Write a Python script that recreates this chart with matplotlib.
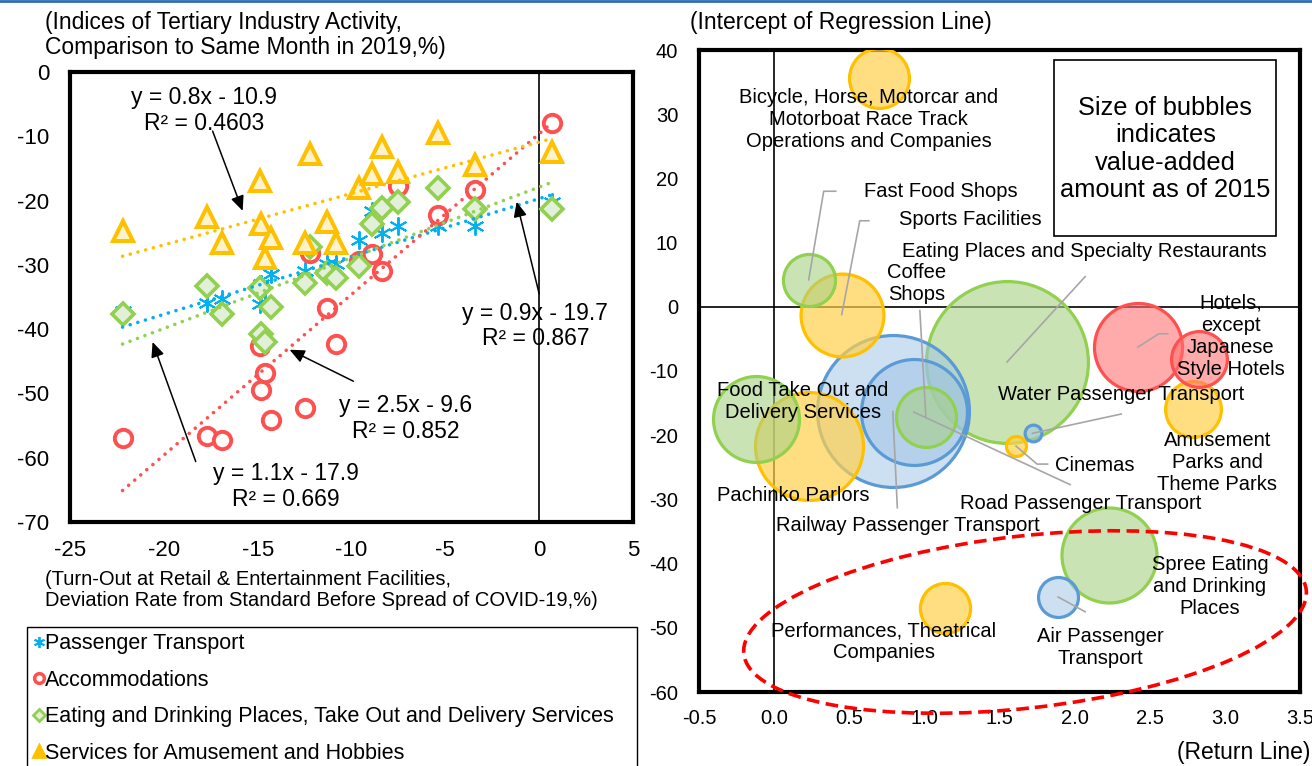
import numpy as np
import matplotlib
matplotlib.use('Agg')
import matplotlib.pyplot as plt
from matplotlib.lines import Line2D
from matplotlib.patches import Ellipse, Rectangle
from matplotlib.transforms import ScaledTranslation

plt.rcParams['font.family'] = ['Liberation Sans', 'DejaVu Sans']
plt.rcParams['axes.unicode_minus'] = False

# ---------------- left chart data (turn-out vs activity index) ----------------
series_names = ['Passenger Transport', 'Accommodations',
                'Eating and Drinking Places, Take Out and Delivery Services',
                'Services for Amusement and Hobbies']

turnout = [-22.2, -17.7, -16.9, -14.9, -14.8, -14.6, -14.3, -12.5, -12.2,
           -11.3, -10.8, -9.6, -8.9, -8.4, -7.5, -5.4, -3.4, 0.7]

passenger = [-37.2, -35.9, -35.3, -36.1, -33.0, -35.8, -31.4, -31.0, -27.8,
             -29.8, -29.8, -26.2, -21.6, -25.0, -24.0, -23.9, -23.9, -20.3]
accommodation = [-57.0, -56.7, -57.3, -42.7, -49.4, -46.9, -54.1, -52.2, -28.1,
                 -36.7, -42.3, -29.4, -28.3, -30.9, -17.7, -22.3, -18.4, -8.0]
eating = [-37.7, -33.3, -37.7, -33.6, -40.8, -42.0, -36.6, -32.8, -27.3,
          -31.3, -32.0, -30.2, -23.6, -21.1, -20.3, -18.0, -21.3, -21.3]
amusement = [-24.7, -22.6, -26.6, -16.9, -23.6, -29.0, -25.9, -26.6, -12.7,
             -23.4, -26.6, -18.1, -15.8, -11.7, -15.6, -9.5, -14.5, -12.5]

slopes = [0.9, 2.5, 1.1, 0.8]
intercepts = [-19.7, -9.6, -17.9, -10.9]
r2_texts = ['0.867', '0.852', '0.669', '0.4603']

# ---------------- right chart data (bubbles) ----------------
bubble_names = ['Bicycle, Horse, Motorcar and\nMotorboat Race Track\nOperations and Companies',
                'Fast Food Shops', 'Sports Facilities',
                'Eating Places and Specialty Restaurants',
                'Hotels,\nexcept\nJapanese\nStyle Hotels', 'Japanese Style Hotels',
                'Amusement\nParks and\nTheme Parks', 'Water Passenger Transport',
                'Cinemas', 'Coffee\nShops', 'Railway Passenger Transport',
                'Road Passenger Transport', 'Food Take Out and\nDelivery Services',
                'Pachinko Parlors', 'Spree Eating\nand Drinking\nPlaces',
                'Air Passenger\nTransport', 'Performances, Theatrical\nCompanies']
bubble_group = [3, 2, 3, 2, 1, 1, 3, 0, 3, 2, 0, 0, 2, 3, 2, 0, 3]
bubble_x = [0.70, 0.23, 0.45, 1.55, 2.42, 2.83, 2.79, 1.72, 1.61, 1.01, 0.79,
            0.93, -0.12, 0.23, 2.23, 1.89, 1.14]
bubble_y = [35.6, 4.2, -1.2, -8.6, -6.3, -8.1, -15.9, -19.7, -21.7, -17.2,
            -16.3, -16.4, -17.5, -21.7, -38.6, -45.2, -46.9]
value_added = [9.0, 6.8, 17.2, 65.6, 19.4, 7.8, 7.8, 0.7, 1.0, 9.0, 57.8,
               28.1, 18.5, 29.2, 22.6, 4.0, 6.3]

# label placement (data coords) and leader lines, None = no label shown
label_pos = [(0.63, 29.2, 'center'), (0.60, 18.0, 'left'), (0.83, 13.6, 'left'),
             (0.85, 8.6, 'left'), (3.04, -4.6, 'center'), None,
             (2.95, -24.2, 'center'), (2.31, -13.6, 'center'),
             (1.87, -24.7, 'left'), (0.95, 3.7, 'center'), (0.89, -34.1, 'center'),
             (2.04, -30.6, 'center'), (0.19, -14.8, 'center'),
             (0.13, -29.4, 'center'), (2.90, -43.6, 'center'),
             (2.17, -53.1, 'center'), (0.73, -52.2, 'center')]
leaders = {1: [(0.33, 18.0), (0.41, 18.0)],
           2: [(0.57, 13.4), (0.63, 13.4)],
           3: [(2.07, 4.7)],
           4: [(2.56, -4.2), (2.62, -4.2)],
           7: [(2.31, -16.7)],
           8: [(1.75, -24.5), (1.82, -24.5)],
           9: [(0.97, -0.6)],
           10: [(0.82, -31.3)],
           11: [(1.97, -27.7)],
           15: [(2.07, -47.5)]}

edge_cols = ['#00B0F0', '#FF5050', '#92D050', '#FFC000']
face_cols = ['#00B0F0', 'white', '#E2F0D9', '#FFF2CC']
bub_edge = ['#5B9BD5', '#FF5050', '#92D050', '#FFC000']
bub_face = [(0.61, 0.76, 0.90, 0.5), (1.0, 0.45, 0.45, 0.6),
            (0.66, 0.82, 0.52, 0.6), (1.0, 0.82, 0.30, 0.7)]

fig = plt.figure(figsize=(13.12, 7.66), dpi=100)
fig.add_artist(Line2D([0, 1], [0.999, 0.999], transform=fig.transFigure,
                      color='#2E6DB4', lw=2))

# ================= left chart =================
ax = fig.add_axes([70/1312, 1-522/766, 563/1312, 450/766])
ys = [passenger, accommodation, eating, amusement]
markers = [(6, 2, 0), 'o', 'D', '^']
msizes = [13, 12.5, 11, 14]
mews = [1.4, 2.8, 2.6, 2.9]
for i in range(4):
    ax.plot(turnout, ys[i], ls='none', marker=markers[i], ms=msizes[i],
            mew=mews[i], mec=edge_cols[i], mfc=face_cols[i], zorder=3+i)

xx = np.array([min(turnout), max(turnout)])
for i in range(4):
    ax.plot(xx, slopes[i]*xx + intercepts[i], color=edge_cols[i], lw=2.6,
            ls=(0, (0.01, 2.2)), dash_capstyle='round', zorder=8)

ax.axvline(0, color='black', lw=1.2, zorder=1)

eq_pos = [(-0.2, -39.5), (-7.1, -53.9), (-13.5, -64.5), (-17.85, -6.0)]
arrow_tail = [(0.0, -34.5), (-9.9, -48.1), (-18.3, -60.6), (-17.4, -9.2)]
arrow_head = [(-1.2, -20.2), (-13.3, -43.2), (-20.6, -42.0), (-15.8, -21.6)]
for i in range(4):
    ax.text(eq_pos[i][0], eq_pos[i][1],
            'y = %gx - %g\nR² = %s' % (slopes[i], abs(intercepts[i]), r2_texts[i]),
            ha='center', va='center', fontsize=16.5, linespacing=1.15, zorder=10)
    ax.annotate('', xy=arrow_head[i], xytext=arrow_tail[i],
                arrowprops=dict(arrowstyle='-|>,head_length=0.9,head_width=0.4',
                                color='black', lw=1.1, shrinkA=0, shrinkB=0),
                zorder=10)

ax.set_xlim(-25, 5)
ax.set_ylim(-70, 0)
ax.set_xticks(range(-25, 6, 5))
ax.set_yticks(range(-70, 1, 10))
ax.tick_params(axis='x', length=0, pad=13, labelsize=16)
ax.tick_params(axis='y', length=0, pad=15, labelsize=16)
for s in ax.spines.values():
    s.set_linewidth(3)

fig.text(45/1312, 1-35/766, '(Indices of Tertiary Industry Activity,\nComparison to Same Month in 2019,%)',
         ha='left', va='center', fontsize=16.5, linespacing=1.1)
fig.text(45/1312, 1-590/766, '(Turn-Out at Retail & Entertainment Facilities,\nDeviation Rate from Standard Before Spread of COVID-19,%)',
         ha='left', va='center', fontsize=14.5, linespacing=1.15)

handles = [Line2D([], [], ls='none', marker=markers[i], ms=[8, 7, 6.5, 9][i],
                  mew=[1.3, 2.5, 2, 2][i], mec=edge_cols[i],
                  mfc=[edge_cols[0], 'white', '#E2F0D9', edge_cols[3]][i])
           for i in range(4)]
fig.legend(handles, series_names, loc='upper left',
           bbox_to_anchor=(27/1312, 0, 610/1312, 1-627/766), mode='expand',
           fontsize=15.5, frameon=True, fancybox=False, edgecolor='black',
           framealpha=1, handlelength=0.5, handletextpad=0.05,
           labelspacing=0.72, borderpad=0.3, borderaxespad=0)

# ================= right chart =================
ax2 = fig.add_axes([699/1312, 1-692/766, 601/1312, 642/766])
order = np.argsort(value_added)[::-1]
for k in order:
    g = bubble_group[k]
    ax2.scatter(bubble_x[k], bubble_y[k], s=value_added[k]*207,
                facecolor=bub_face[g], edgecolor=bub_edge[g], linewidth=2.3,
                zorder=3)

ax2.axhline(0, color='black', lw=1.2, zorder=1)
ax2.axvline(0, color='black', lw=1.2, zorder=1)

for k in range(len(bubble_names)):
    if label_pos[k] is None:
        continue
    lx, ly, ha = label_pos[k]
    ax2.text(lx, ly, bubble_names[k], ha=ha, va='center', fontsize=14.5,
             linespacing=1.2, zorder=6)
    if k in leaders:
        pts = [(bubble_x[k], bubble_y[k])] + leaders[k]
        ax2.plot([p[0] for p in pts], [p[1] for p in pts], color='#A6A6A6',
                 lw=1.2, zorder=5)

ax2.add_patch(Rectangle((0.591, 0.710), 0.369, 0.274, transform=ax2.transAxes,
                        fill=False, ec='black', lw=1.2, zorder=6))
ax2.text(0.776, 0.846, 'Size of bubbles\nindicates\nvalue-added\namount as of 2015',
         transform=ax2.transAxes, ha='center', va='center', fontsize=18.3,
         linespacing=1.18, zorder=7)

ell_trans = fig.dpi_scale_trans + ScaledTranslation(1.67, -49.1, ax2.transData)
ax2.add_patch(Ellipse((0, 0), 5.66, 1.72, angle=6.5, transform=ell_trans,
                      fill=False, ec='#FF0000', lw=2.6, ls=(0, (3.5, 1.8)),
                      clip_on=False, zorder=9))

ax2.set_xlim(-0.5, 3.5)
ax2.set_ylim(-60, 40)
ax2.set_xticks(np.arange(-0.5, 3.51, 0.5))
ax2.set_xticklabels(['%.1f' % v for v in np.arange(-0.5, 3.51, 0.5)])
ax2.set_yticks(range(-60, 41, 10))
ax2.tick_params(axis='x', length=0, pad=12, labelsize=14.5)
ax2.tick_params(axis='y', length=0, pad=15, labelsize=14.5)
for s in ax2.spines.values():
    s.set_linewidth(3)

fig.text(690/1312, 1-22/766, '(Intercept of Regression Line)', ha='left',
         va='center', fontsize=16.5)
fig.text(1310/1312, 1-752/766, '(Return Line)', ha='right', va='center',
         fontsize=16.5)

fig.savefig('out.png', dpi=100)
